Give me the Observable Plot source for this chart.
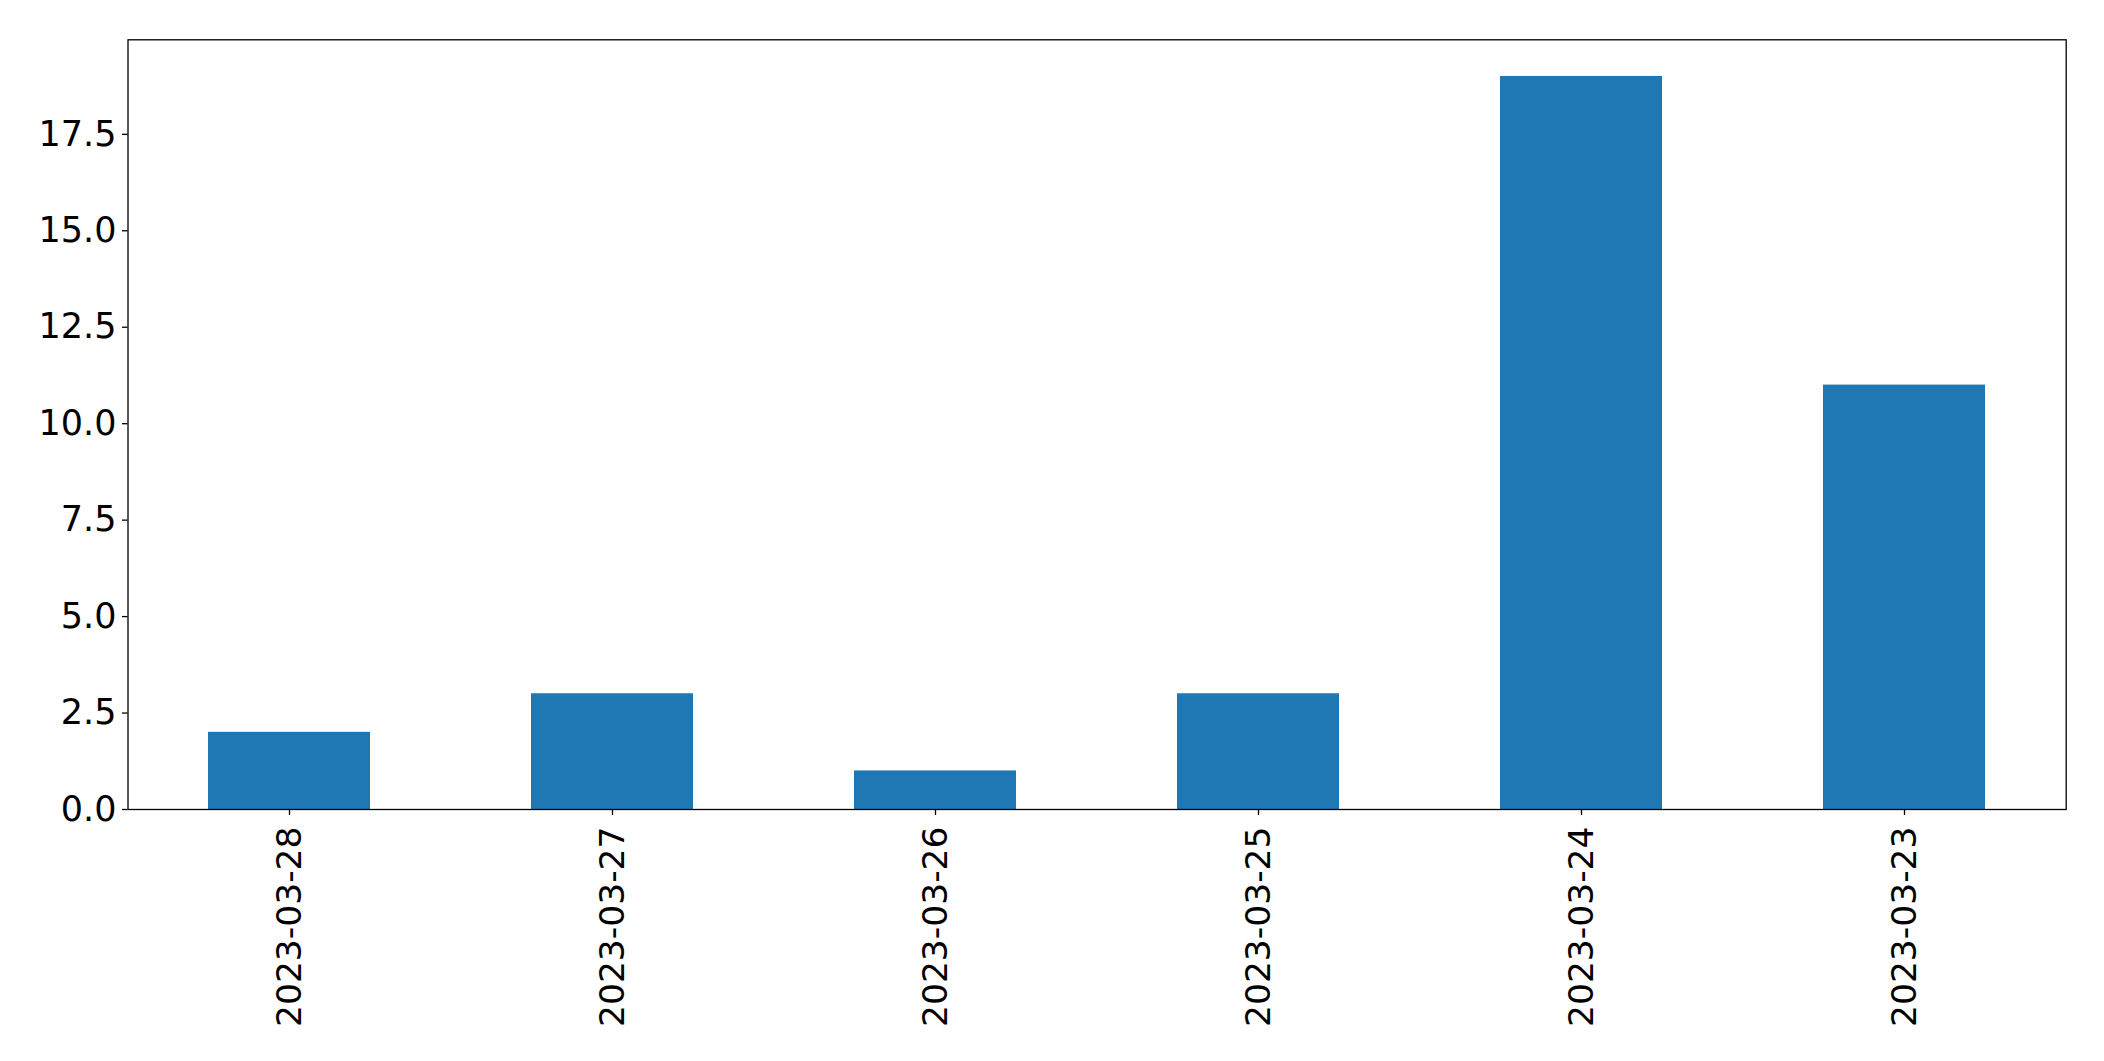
<!DOCTYPE html>
<html>
<head>
<meta charset="utf-8">
<script src="https://cdn.jsdelivr.net/npm/d3@7"></script>
<script src="https://cdn.jsdelivr.net/npm/@observablehq/plot@0.6"></script>
<style>
  html, body { margin: 0; padding: 0; background: #fff; }
  #chart svg { display: block; }
</style>
</head>
<body>
<div id="chart"></div>
<script>
const categories = ["2023-03-28", "2023-03-27", "2023-03-26", "2023-03-25", "2023-03-24", "2023-03-23"];
const values = [2, 3, 1, 3, 19, 11];
const yTicks = [0, 2.5, 5, 7.5, 10, 12.5, 15, 17.5];

const data = categories.map((c, i) => ({date: c, count: values[i]}));

const chart = Plot.plot({
  width: 2104,
  height: 1061,
  marginLeft: 127.5,
  marginRight: 38.3,
  marginTop: 39.3,
  marginBottom: 252,
  style: {fontFamily: "'DejaVu Sans', sans-serif", fontSize: "35px", color: "#000", background: "#fff"},
  x: {domain: categories, paddingInner: 0.5, paddingOuter: 0.25, label: null},
  y: {domain: [0, 19.95], label: null},
  marks: [
    Plot.barY(data, {x: "date", y: "count", fill: "#1f77b4"}),
    Plot.axisY({ticks: yTicks, tickFormat: d3.format(".1f"), tickSize: 5.5, tickPadding: 6, label: null, fontSize: 35, strokeWidth: 1.3}),
    Plot.axisX({tickRotate: -90, tickSize: 6, tickPadding: 11, label: null, fontSize: 34.5, strokeWidth: 1.3}),
    Plot.frame({stroke: "#000", strokeWidth: 1.3})
  ]
});
document.getElementById("chart").appendChild(chart);
</script>
</body>
</html>
